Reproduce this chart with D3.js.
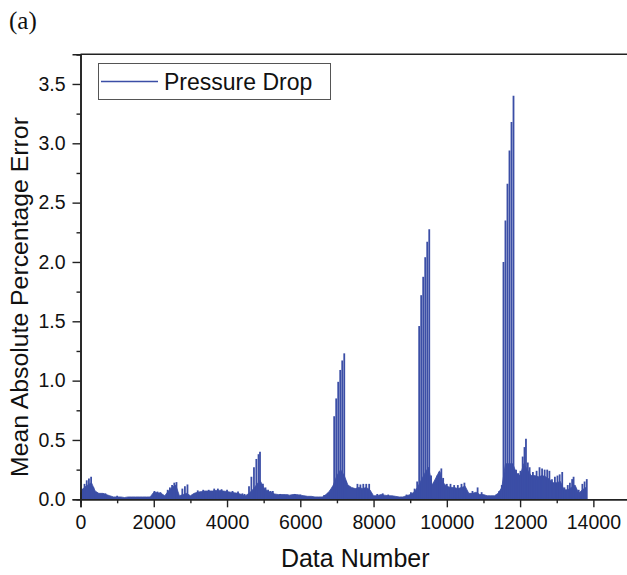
<!DOCTYPE html>
<html>
<head>
<meta charset="utf-8">
<script src="https://cdn.jsdelivr.net/npm/d3@7"></script>
<style>
  body { margin: 0; background: #fff; }
  text { font-family: "Liberation Sans", Arial, sans-serif; fill: #111; }
</style>
</head>
<body>
<svg id="chart" width="627" height="575"></svg>
<script>
// dense low "floor" of the error trace, one value every 100 data numbers (0..13800)
var floorStep = 100;
var floorValues = [
  0.05, 0.10, 0.12, 0.14, 0.07, 0.05, 0.05, 0.04, 0.03, 0.02,
  0.02, 0.02, 0.015, 0.02, 0.02, 0.02, 0.02, 0.02, 0.02, 0.02,
  0.06, 0.055, 0.05, 0.03, 0.07, 0.10, 0.12, 0.03, 0.04, 0.05,
  0.03, 0.05, 0.06, 0.065, 0.07, 0.07, 0.07, 0.075, 0.075, 0.07,
  0.065, 0.06, 0.055, 0.05, 0.04, 0.03, 0.05, 0.08, 0.12, 0.16,
  0.10, 0.07, 0.06, 0.045, 0.04, 0.04, 0.04, 0.035, 0.04, 0.04,
  0.035, 0.03, 0.025, 0.025, 0.02, 0.02, 0.02, 0.04, 0.07, 0.12,
  0.20, 0.25, 0.20, 0.12, 0.10, 0.09, 0.10, 0.09, 0.10, 0.08,
  0.03, 0.03, 0.04, 0.035, 0.03, 0.03, 0.025, 0.02, 0.02, 0.03,
  0.04, 0.06, 0.10, 0.16, 0.22, 0.27, 0.12, 0.18, 0.24, 0.14,
  0.11, 0.10, 0.10, 0.09, 0.10, 0.11, 0.05, 0.05, 0.06, 0.04,
  0.04, 0.03, 0.03, 0.03, 0.05, 0.10, 0.30, 0.30, 0.30, 0.22,
  0.20, 0.30, 0.25, 0.20, 0.20, 0.19, 0.20, 0.19, 0.17, 0.14,
  0.14, 0.15, 0.08, 0.08, 0.10, 0.12, 0.05, 0.08, 0.10
];

// individual spikes of the trace
var spikeNumbers = [
  50, 110, 170, 230, 290, 350, 620, 680, 1000,
  2020, 2100, 2180, 2380, 2440, 2500, 2560, 2620, 2780, 2850, 2920,
  3200, 3350, 3500, 3650, 3750, 3850, 4000, 4150, 4300, 4420, 4480,
  4600, 4665, 4735, 4800, 4860, 4900, 4980, 5050, 5120, 5190, 5250,
  5450, 5650, 5850, 6000, 6650, 6760, 6830,
  6925, 6980, 7035, 7090, 7145, 7200, 7250,
  7560, 7640, 7720, 7800, 7880, 8100, 8250, 8400, 8900,
  9020, 9120, 9190, 9245, 9300, 9355, 9410, 9465, 9520, 9570,
  9740, 9800, 9850, 9900, 10000, 10100, 10200, 10300, 10400, 10480,
  10700, 10840, 10950, 11430, 11500,
  11546, 11600, 11655, 11710, 11765, 11820,
  11890, 11950, 12010, 12070, 12120, 12160, 12210, 12260,
  12350, 12450, 12530, 12600, 12670, 12740, 12800,
  12870, 12950, 13020, 13080, 13150, 13210, 13300, 13360, 13420, 13460,
  13600, 13700, 13760, 13820
];
var spikeValues = [
  0.09, 0.13, 0.16, 0.175, 0.19, 0.10, 0.05, 0.05, 0.03,
  0.07, 0.065, 0.06, 0.08, 0.10, 0.12, 0.14, 0.145, 0.09, 0.11, 0.125,
  0.075, 0.08, 0.08, 0.09, 0.09, 0.085, 0.08, 0.07, 0.065, 0.05, 0.045,
  0.11, 0.19, 0.27, 0.34, 0.38, 0.40, 0.13, 0.10, 0.08, 0.07, 0.07,
  0.045, 0.04, 0.045, 0.04, 0.035, 0.05, 0.08,
  0.70, 0.85, 0.99, 1.09, 1.17, 1.23, 0.15,
  0.13, 0.125, 0.13, 0.13, 0.13, 0.045, 0.05, 0.04, 0.04,
  0.06, 0.09, 0.15, 1.46, 1.72, 1.875, 2.04, 2.17, 2.275, 0.20,
  0.20, 0.23, 0.26, 0.18, 0.13, 0.13, 0.12, 0.12, 0.13, 0.14,
  0.07, 0.10, 0.06, 0.07, 0.12,
  2.00, 2.35, 2.66, 2.94, 3.18, 3.40,
  0.25, 0.22, 0.24, 0.36, 0.44, 0.51, 0.31, 0.27,
  0.23, 0.24, 0.27, 0.26, 0.25, 0.25, 0.24,
  0.17, 0.19, 0.20, 0.21, 0.23, 0.10, 0.12, 0.14, 0.17, 0.19,
  0.08, 0.13, 0.15, 0.17
];

var xTicks = [0, 2000, 4000, 6000, 8000, 10000, 12000, 14000];
var yTicks = [0, 0.5, 1.0, 1.5, 2.0, 2.5, 3.0, 3.5];
var seriesName = "Pressure Drop";

var blue = "#3b4ea6";

var svg = d3.select("#chart");
var plotLeft = 80.5, plotRight = 630, plotTop = 54.3, plotBottom = 499.3;

var x = d3.scaleLinear().domain([0, 15000]).range([plotLeft, plotRight]);
var y = d3.scaleLinear().domain([0, 3.75]).range([plotBottom, plotTop]);

var plot = svg.append("g");

// floor
var floorData = floorValues.map(function (v, i) { return [i * floorStep, v]; });
plot.append("path")
    .datum(floorData)
    .attr("fill", blue)
    .attr("stroke", blue)
    .attr("stroke-width", 0.8)
    .attr("d", d3.area()
        .x(function (d) { return x(d[0]); })
        .y0(y(0))
        .y1(function (d) { return y(d[1]); }));

// spikes
plot.selectAll("line.spike")
    .data(spikeNumbers)
    .enter().append("line")
    .attr("class", "spike")
    .attr("x1", function (d) { return x(d); })
    .attr("x2", function (d) { return x(d); })
    .attr("y1", y(0))
    .attr("y2", function (d, i) { return y(spikeValues[i]); })
    .attr("stroke", blue)
    .attr("stroke-width", 1.8);

// axes
var axisColor = "#222";
var xAxis = svg.append("g")
    .attr("transform", "translate(0," + plotBottom + ")")
    .call(d3.axisBottom(x).tickValues(xTicks).tickSize(8).tickPadding(8).tickFormat(d3.format("d")));
var xMinor = svg.append("g")
    .attr("transform", "translate(0," + plotBottom + ")")
    .call(d3.axisBottom(x).tickValues(d3.range(1000, 15000, 2000)).tickSize(4).tickFormat(""));
var yAxis = svg.append("g")
    .attr("transform", "translate(" + plotLeft + ",0)")
    .call(d3.axisLeft(y).tickValues(yTicks).tickSize(8).tickPadding(7).tickFormat(d3.format(".1f")));
var yMinor = svg.append("g")
    .attr("transform", "translate(" + plotLeft + ",0)")
    .call(d3.axisLeft(y).tickValues([0.25, 0.75, 1.25, 1.75, 2.25, 2.75, 3.25, 3.75]).tickSize(4).tickFormat(""));

[xAxis, xMinor, yAxis, yMinor].forEach(function (a) {
    a.select(".domain").attr("stroke", axisColor).attr("stroke-width", 1.6);
    a.selectAll(".tick line").attr("stroke", axisColor).attr("stroke-width", 1.4);
    a.selectAll(".tick text").style("font-size", "19.5px").attr("fill", "#111");
});

// top and right frame
svg.append("line").attr("x1", plotLeft).attr("x2", plotRight).attr("y1", plotTop).attr("y2", plotTop)
    .attr("stroke", axisColor).attr("stroke-width", 1.6);
svg.append("line").attr("x1", plotRight).attr("x2", plotRight).attr("y1", plotTop).attr("y2", plotBottom)
    .attr("stroke", axisColor).attr("stroke-width", 1.6);

// axis titles
svg.append("text")
    .attr("x", (plotLeft + plotRight) / 2)
    .attr("y", 567)
    .attr("text-anchor", "middle")
    .style("font-size", "25px")
    .text("Data Number");

svg.append("text")
    .attr("transform", "translate(28," + 297 + ") rotate(-90)")
    .attr("text-anchor", "middle")
    .style("font-size", "24.8px")
    .text("Mean Absolute Percentage Error");

// panel label
svg.append("text")
    .attr("x", 9)
    .attr("y", 29)
    .style("font-family", "'Liberation Serif', 'Times New Roman', serif")
    .style("font-size", "25px")
    .text("(a)");

// legend
var legend = svg.append("g");
legend.append("rect")
    .attr("x", 98.5).attr("y", 63.5)
    .attr("width", 232).attr("height", 36)
    .attr("fill", "#fff")
    .attr("stroke", "#555")
    .attr("stroke-width", 1);
legend.append("line")
    .attr("x1", 101).attr("x2", 158).attr("y1", 81.5).attr("y2", 81.5)
    .attr("stroke", blue).attr("stroke-width", 1.5);
legend.append("text")
    .attr("x", 164).attr("y", 89.5)
    .style("font-size", "23px")
    .text(seriesName);
</script>
</body>
</html>
